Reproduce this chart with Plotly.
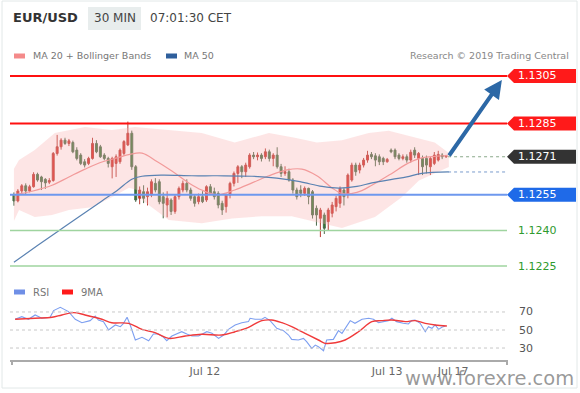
import plotly.graph_objects as go

# ---------------- data ----------------
opens = [1.12550, 1.12524, 1.12566, 1.12588, 1.12566, 1.12584, 1.12636, 1.12625, 1.12615, 1.12603,
         1.12610, 1.12724, 1.12752, 1.12780, 1.12766, 1.12770, 1.12738, 1.12717, 1.12689, 1.12682,
         1.12703, 1.12766, 1.12752, 1.12717, 1.12703, 1.12668, 1.12682, 1.12689, 1.12724, 1.12760,
         1.12809, 1.12668, 1.12535, 1.12563, 1.12542, 1.12549, 1.12598, 1.12605, 1.12542, 1.12507,
         1.12528, 1.12480, 1.12542, 1.12570, 1.12598, 1.12570, 1.12542, 1.12521, 1.12542, 1.12528,
         1.12584, 1.12563, 1.12556, 1.12514, 1.12500, 1.12549, 1.12598, 1.12640, 1.12668, 1.12647,
         1.12668, 1.12717, 1.12710, 1.12717, 1.12710, 1.12731, 1.12703, 1.12717, 1.12668, 1.12640,
         1.12647, 1.12612, 1.12570, 1.12570, 1.12556, 1.12577, 1.12563, 1.12493, 1.12451, 1.12465,
         1.12437, 1.12472, 1.12500, 1.12514, 1.12570, 1.12549, 1.12612, 1.12675, 1.12654, 1.12675,
         1.12696, 1.12720, 1.12714, 1.12710, 1.12703, 1.12689, 1.12738, 1.12738, 1.12717, 1.12703,
         1.12710, 1.12696, 1.12738, 1.12703, 1.12703, 1.12703, 1.12668, 1.12682, 1.12696, 1.12717,
         1.12710]
highs = [1.12560, 1.12574, 1.12595, 1.12598, 1.12592, 1.12645, 1.12643, 1.12630, 1.12620, 1.12620,
         1.12730, 1.12802, 1.12788, 1.12790, 1.12785, 1.12778, 1.12750, 1.12725, 1.12700, 1.12710,
         1.12790, 1.12780, 1.12760, 1.12725, 1.12710, 1.12710, 1.12720, 1.12745, 1.12780, 1.12858,
         1.12820, 1.12675, 1.12585, 1.12590, 1.12580, 1.12615, 1.12620, 1.12615, 1.12560, 1.12565,
         1.12535, 1.12550, 1.12585, 1.12610, 1.12615, 1.12580, 1.12550, 1.12555, 1.12565, 1.12590,
         1.12595, 1.12580, 1.12565, 1.12525, 1.12555, 1.12605, 1.12648, 1.12675, 1.12675, 1.12685,
         1.12725, 1.12730, 1.12728, 1.12725, 1.12745, 1.12740, 1.12725, 1.12750, 1.12680, 1.12670,
         1.12660, 1.12620, 1.12580, 1.12590, 1.12585, 1.12580, 1.12570, 1.12505, 1.12495, 1.12475,
         1.12495, 1.12520, 1.12545, 1.12585, 1.12580, 1.12640, 1.12685, 1.12685, 1.12685, 1.12705,
         1.12735, 1.12730, 1.12725, 1.12720, 1.12710, 1.12705, 1.12745, 1.12745, 1.12725, 1.12720,
         1.12720, 1.12740, 1.12750, 1.12730, 1.12715, 1.12715, 1.12710, 1.12730, 1.12735, 1.12725,
         1.12718]
lows = [1.12504, 1.12518, 1.12555, 1.12550, 1.12560, 1.12580, 1.12605, 1.12570, 1.12575, 1.12595,
        1.12605, 1.12715, 1.12740, 1.12760, 1.12755, 1.12725, 1.12695, 1.12675, 1.12665, 1.12675,
        1.12698, 1.12725, 1.12705, 1.12695, 1.12665, 1.12619, 1.12625, 1.12680, 1.12715, 1.12755,
        1.12655, 1.12520, 1.12510, 1.12515, 1.12505, 1.12540, 1.12560, 1.12510, 1.12451, 1.12455,
        1.12465, 1.12470, 1.12530, 1.12560, 1.12560, 1.12525, 1.12500, 1.12510, 1.12515, 1.12520,
        1.12550, 1.12530, 1.12493, 1.12465, 1.12475, 1.12535, 1.12585, 1.12600, 1.12620, 1.12625,
        1.12660, 1.12700, 1.12695, 1.12690, 1.12700, 1.12690, 1.12670, 1.12660, 1.12625, 1.12630,
        1.12605, 1.12555, 1.12530, 1.12540, 1.12545, 1.12510, 1.12450, 1.12420, 1.12372, 1.12385,
        1.12400, 1.12455, 1.12480, 1.12495, 1.12505, 1.12535, 1.12605, 1.12630, 1.12640, 1.12665,
        1.12685, 1.12700, 1.12670, 1.12675, 1.12675, 1.12685, 1.12725, 1.12700, 1.12695, 1.12695,
        1.12685, 1.12685, 1.12705, 1.12633, 1.12633, 1.12640, 1.12633, 1.12675, 1.12690, 1.12700,
        1.12705]
closes = [1.12524, 1.12566, 1.12588, 1.12566, 1.12584, 1.12636, 1.12612, 1.12605, 1.12600, 1.12610,
          1.12724, 1.12752, 1.12780, 1.12766, 1.12777, 1.12731, 1.12703, 1.12682, 1.12675, 1.12703,
          1.12766, 1.12731, 1.12710, 1.12703, 1.12682, 1.12703, 1.12710, 1.12738, 1.12774, 1.12809,
          1.12668, 1.12528, 1.12570, 1.12535, 1.12563, 1.12605, 1.12570, 1.12521, 1.12514, 1.12535,
          1.12480, 1.12542, 1.12577, 1.12598, 1.12570, 1.12535, 1.12514, 1.12542, 1.12521, 1.12584,
          1.12556, 1.12542, 1.12507, 1.12486, 1.12549, 1.12598, 1.12640, 1.12668, 1.12647, 1.12675,
          1.12717, 1.12710, 1.12717, 1.12703, 1.12731, 1.12703, 1.12717, 1.12668, 1.12640, 1.12647,
          1.12612, 1.12570, 1.12542, 1.12556, 1.12577, 1.12542, 1.12465, 1.12465, 1.12486, 1.12409,
          1.12486, 1.12507, 1.12535, 1.12577, 1.12542, 1.12633, 1.12675, 1.12647, 1.12675, 1.12696,
          1.12717, 1.12710, 1.12696, 1.12689, 1.12689, 1.12699, 1.12731, 1.12710, 1.12703, 1.12710,
          1.12696, 1.12729, 1.12717, 1.12724, 1.12668, 1.12675, 1.12703, 1.12717, 1.12720, 1.12710,
          1.12713]

ma20_x = [0, 4.6, 9.7, 14.0, 18.1, 22.4, 26.2, 29.5, 32.6, 36.4, 40.2, 44.5, 47.8, 51.7, 56.2,
          60.6, 64.9, 69.5, 73.3, 77.1, 80.9, 83.5, 87.3, 91.1, 96.2, 100.0, 103.8, 110.4]
ma20_y = [1.12550, 1.12565, 1.12590, 1.12625, 1.12658, 1.12688, 1.12705, 1.12720, 1.12725, 1.12690,
          1.12650, 1.12600, 1.12570, 1.12550, 1.12570, 1.12600, 1.12630, 1.12655, 1.12658, 1.12630,
          1.12580, 1.12555, 1.12560, 1.12590, 1.12640, 1.12680, 1.12705, 1.12715]

ma50_x = [0, 5.9, 11.7, 17.3, 22.4, 26.2, 30.0, 32.6, 37.7, 45.3, 51.7, 60.6, 66.9, 72.8, 78.4,
          82.7, 87.3, 91.1, 96.2, 100.0, 103.8, 110.7]
ma50_y = [1.12266, 1.12335, 1.12402, 1.12466, 1.12524, 1.12567, 1.12615, 1.12628, 1.12633, 1.12630,
          1.12630, 1.12628, 1.12620, 1.12605, 1.12585, 1.12578, 1.12585, 1.12600, 1.12615, 1.12625,
          1.12640, 1.12646]

bb_up_x = [0, 1.3, 5.3, 10.4, 18.1, 24.9, 30.8, 39.4, 47.8, 56.2, 64.9, 71.5, 77.1, 83.5, 90.3,
           95.4, 101.3, 107.1, 110.7]
bb_up_y = [1.12660, 1.12696, 1.12738, 1.12810, 1.12835, 1.12823, 1.12835, 1.12823, 1.12810, 1.12770,
           1.12810, 1.12790, 1.12770, 1.12780, 1.12810, 1.12820, 1.12795, 1.12770, 1.12726]
bb_lo_x = [0, 1.3, 5.3, 9.7, 14.0, 19.8, 24.9, 29.3, 31.3, 32.6, 39.4, 47.8, 55.5, 63.1, 70.7,
           75.8, 83.5, 91.9, 98.7, 103.1, 110.7]
bb_lo_y = [1.12440, 1.12486, 1.12456, 1.12465, 1.12486, 1.12498, 1.12540, 1.12580, 1.12570, 1.12528,
           1.12444, 1.12430, 1.12450, 1.12460, 1.12460, 1.12440, 1.12410, 1.12456, 1.12540, 1.12610,
           1.12667]

rsi_x = [0.3, 2.0, 3.7, 5.4, 7.1, 9.2, 10.1, 11.8, 13.9, 15.6, 17.3, 19.4, 20.7, 21.5, 22.8, 24.1,
         25.8, 27.1, 27.9, 28.8, 29.6, 30.9, 32.6, 34.3, 35.5, 36.8, 38.1, 38.9, 40.2, 41.5, 42.7,
         44.0, 45.3, 47.0, 49.1, 50.4, 52.1, 53.4, 54.6, 56.3, 58.0, 59.7, 60.1, 61.4, 63.1, 63.9,
         65.2, 66.9, 68.6, 69.9, 70.7, 72.4, 73.7, 74.5, 75.8, 76.7, 77.5, 78.8, 79.6, 81.3, 82.6,
         83.5, 84.7, 85.6, 86.8, 88.6, 90.3, 91.5, 92.8, 94.0, 95.3, 96.2, 97.4, 99.1, 100.4, 101.2,
         102.1, 103.4, 104.7, 105.5, 106.4, 107.2, 108.1, 108.9, 109.8]
rsi_v = [61.9, 64.8, 61.9, 66.7, 63.0, 64.1, 71.5, 75.2, 70.4, 61.9, 58.1, 60.4, 65.6, 61.1, 59.3, 50.0,
         55.6, 53.7, 57.4, 64.1, 55.6, 38.9, 41.9, 38.1, 45.6, 45.6, 41.9, 38.1, 43.3, 45.6, 48.1,
         45.6, 43.3, 43.3, 48.1, 46.3, 40.7, 44.4, 50.7, 55.6, 58.1, 59.3, 63.0, 61.9, 61.9, 64.1,
         60.4, 51.9, 49.3, 44.4, 39.6, 38.9, 40.7, 37.0, 29.6, 33.3, 31.5, 27.0, 38.9, 39.6, 49.3,
         46.3, 54.4, 60.4, 57.4, 61.9, 63.0, 61.9, 58.1, 59.3, 60.4, 63.0, 59.3, 57.4, 56.7, 60.4,
         61.1, 57.4, 48.1, 53.7, 51.9, 55.6, 50.7, 53.0, 54.4]
ma9_x = [0.3, 5.4, 9.7, 12.2, 15.2, 18.1, 22.4, 24.9, 29.2, 32.6, 35.9, 39.4, 43.6, 47.8, 52.9,
         56.3, 59.7, 63.1, 65.6, 68.2, 70.7, 74.1, 77.5, 79.2, 81.8, 84.3, 87.7, 91.1, 93.6, 96.2,
         99.6, 102.1, 104.7, 107.2, 110.2]
ma9_v = [61.9, 63.0, 64.1, 66.7, 69.3, 66.7, 61.9, 58.1, 57.4, 50.7, 47.0, 40.7, 43.3, 45.2, 44.4,
         48.1, 53.0, 60.4, 61.1, 58.1, 53.7, 46.3, 38.9, 35.2, 35.9, 38.9, 48.1, 59.3, 60.4, 61.1,
         59.3, 60.4, 57.4, 55.6, 54.4]

resistance = [1.1305, 1.1285]
last_price = 1.1271
pivot = 1.1255
supports = [1.1240, 1.1225]
ma50_last = 1.12646
target_from = (110.5, 1.12709)
target_to = (124.2, 1.13033)
rsi_levels = [70, 50, 30]
tick_pos = [48.6, 95.0, 111.8]
tick_text = ["Jul 12", "Jul 13", "Jul 17"]

# ---------------- figure ----------------
W, H = 580, 393
ML, MR = 10, 73
PW = W - ML - MR
FONT = "DejaVu Sans"


def px(x):
    return (x - ML) / PW


def py(y):
    return 1 - y / H


idx = list(range(len(closes)))
fig = go.Figure()

fig.add_trace(go.Scatter(x=bb_up_x + bb_lo_x[::-1], y=bb_up_y + bb_lo_y[::-1], fill="toself",
                         fillcolor="rgba(250,175,175,0.33)", line=dict(width=0),
                         mode="lines", hoverinfo="skip", xaxis="x", yaxis="y"))
fig.add_trace(go.Scatter(x=ma20_x, y=ma20_y, mode="lines", line=dict(color="#f29a9a", width=1.2,
                         shape="spline"), xaxis="x", yaxis="y"))
fig.add_trace(go.Scatter(x=ma50_x, y=ma50_y, mode="lines", line=dict(color="#5a82b2", width=1.2,
                         shape="spline"), xaxis="x", yaxis="y"))
fig.add_trace(go.Candlestick(x=idx, open=opens, high=highs, low=lows, close=closes,
                             increasing=dict(fillcolor="#e3201b", line=dict(color="#b83a32", width=1)),
                             decreasing=dict(fillcolor="#2f7d2f", line=dict(color="#4a6a4a", width=1)),
                             whiskerwidth=0, xaxis="x", yaxis="y"))

fig.add_trace(go.Scatter(x=rsi_x, y=rsi_v, mode="lines", line=dict(color="#7d9ff0", width=1.1),
                         xaxis="x2", yaxis="y2"))
fig.add_trace(go.Scatter(x=ma9_x, y=ma9_v, mode="lines", line=dict(color="#f03a3a", width=1.4,
                         shape="spline"), xaxis="x2", yaxis="y2"))

shapes = []
for lv in resistance:
    shapes.append(dict(type="line", xref="x domain", yref="y", x0=0, x1=1, y0=lv, y1=lv,
                       line=dict(color="#ff1010", width=2)))
shapes.append(dict(type="line", xref="x domain", yref="y", x0=0, x1=1, y0=pivot, y1=pivot,
                   line=dict(color="#6e98ee", width=2)))
for lv in supports:
    shapes.append(dict(type="line", xref="x domain", yref="y", x0=0, x1=1, y0=lv, y1=lv,
                       line=dict(color="#9fd49f", width=1.5)))
shapes.append(dict(type="line", xref="x", yref="y", x0=110.5, x1=125.5, y0=last_price, y1=last_price,
                   line=dict(color="#8aa88a", width=1, dash="dot")))
shapes.append(dict(type="line", xref="x", yref="y", x0=110.5, x1=125.5, y0=ma50_last, y1=ma50_last,
                   line=dict(color="#7a9ccc", width=1, dash="dot")))
for lv in rsi_levels:
    shapes.append(dict(type="line", xref="x2 domain", yref="y2", x0=0, x1=1, y0=lv, y1=lv,
                       line=dict(color="#c8c8c8", width=1, dash="dot")))
# axis end ticks
for xe in (12, 507):
    shapes.append(dict(type="line", xref="paper", yref="paper", x0=px(xe), x1=px(xe),
                       y0=py(360), y1=py(365), line=dict(color="#aaaaaa", width=2)))
# header box and outer frame
shapes.append(dict(type="rect", xref="paper", yref="paper", x0=px(88), x1=px(141), y0=py(30), y1=py(7),
                   fillcolor="#e8eded", line=dict(width=0), layer="below"))
shapes.append(dict(type="rect", xref="paper", yref="paper", x0=px(2), x1=px(577), y0=py(388), y1=py(1),
                   line=dict(color="#e2e8e8", width=1), layer="below"))
# legend swatches
for x0, col, yy in ((14, "#f48a8a", 56), (166, "#2f5f9c", 56), (14, "#6f8fe6", 292), (62, "#ff1a1a", 292)):
    shapes.append(dict(type="rect", xref="paper", yref="paper", x0=px(x0), x1=px(x0 + 11),
                       y0=py(yy + 2.5), y1=py(yy - 2.5), fillcolor=col, line=dict(width=0)))

# price tags
tag_half = 7 / 23750.0
tags = [(resistance[0], "#ff1a1a"), (resistance[1], "#ff1a1a"), (last_price, "#333333"), (pivot, "#1f6ae8")]
annotations = []
for lv, col in tags:
    path = (f"M {px(507)},{lv} L {px(514)},{lv + tag_half} L {px(576)},{lv + tag_half} "
            f"L {px(576)},{lv - tag_half} L {px(514)},{lv - tag_half} Z")
    shapes.append(dict(type="path", xref="paper", yref="y", path=path, fillcolor=col, line=dict(width=0)))
    annotations.append(dict(x=px(516), y=lv, xref="paper", yref="y", text=f"{lv:.4f}", showarrow=False,
                            xanchor="left", yanchor="middle", font=dict(family=FONT, size=11, color="white")))
for lv in supports:
    annotations.append(dict(x=px(516), y=lv, xref="paper", yref="y", text=f"{lv:.4f}", showarrow=False,
                            xanchor="left", yanchor="middle", font=dict(family=FONT, size=11, color="#2e9a2e")))
for lv in rsi_levels:
    annotations.append(dict(x=px(517), y=lv, xref="paper", yref="y2", text=str(lv), showarrow=False,
                            xanchor="left", yanchor="middle", font=dict(family=FONT, size=11, color="#555")))

# arrow
annotations.append(dict(x=target_to[0], y=target_to[1], ax=target_from[0], ay=target_from[1],
                        xref="x", yref="y", axref="x", ayref="y", showarrow=True, text="",
                        arrowhead=2, arrowsize=0.9, arrowwidth=4, arrowcolor="#2c68a6", standoff=0))


# texts
def txt(x, y, s, size=11, color="#777", anchor="left", bold=False):
    annotations.append(dict(x=px(x), y=py(y), xref="paper", yref="paper", text=(f"<b>{s}</b>" if bold else s),
                            showarrow=False, xanchor=anchor, yanchor="middle",
                            font=dict(family=FONT, size=size, color=color)))


txt(11, 18, "EUR/USD", size=13, color="#333", bold=True)
txt(114.5, 18, "30 MIN", size=12, color="#444", anchor="center")
txt(148, 18, "07:01:30 CET", size=12, color="#444")
txt(31, 56, "MA 20 + Bollinger Bands", size=9.5, color="#777")
txt(182, 56, "MA 50", size=9.5, color="#777")
txt(571, 56, "Research © 2019 Trading Central", size=9.5, color="#888", anchor="right")
txt(31, 292, "RSI", size=10, color="#777")
txt(79, 292, "9MA", size=10, color="#777")
annotations.append(dict(x=px(489), y=py(378), xref="paper", yref="paper", text="www.forexre.com",
                        showarrow=False, xanchor="center", yanchor="middle",
                        font=dict(family=FONT, size=19.5, color="rgba(120,120,120,0.75)")))

fig.update_layout(
    width=W, height=H, margin=dict(l=ML, r=MR, t=0, b=0),
    paper_bgcolor="white", plot_bgcolor="rgba(0,0,0,0)", showlegend=False,
    xaxis=dict(domain=[0, 1], range=[-1, 125.5], anchor="y", showgrid=False, zeroline=False,
               showticklabels=False, rangeslider=dict(visible=False)),
    yaxis=dict(domain=[py(272), py(66)], range=[1.12225, 1.13092], showgrid=False, zeroline=False,
               showticklabels=False),
    xaxis2=dict(domain=[0, 1], range=[-1, 125.5], anchor="y2", showgrid=False, zeroline=False,
                showline=True, linecolor="#aaaaaa", linewidth=2, tickvals=tick_pos, ticktext=tick_text,
                ticks="", tickfont=dict(family=FONT, size=11, color="#666")),
    yaxis2=dict(domain=[py(360), py(300)], range=[16.7, 83.3], showgrid=False, zeroline=False,
                showticklabels=False),
    shapes=shapes, annotations=annotations,
)

fig.write_html("out.html", config={"displayModeBar": False},
               post_script="document.body.style.margin='0';document.body.style.overflow='hidden';")
